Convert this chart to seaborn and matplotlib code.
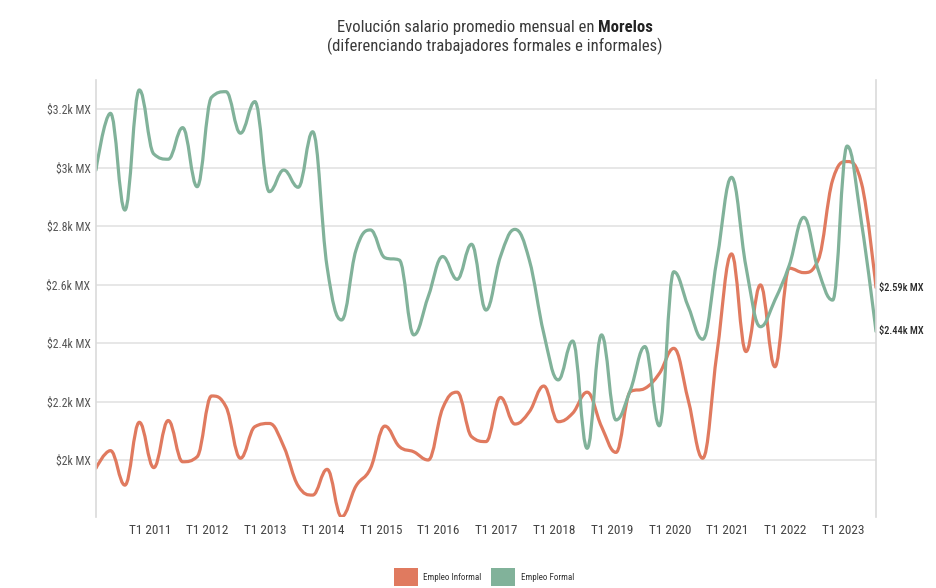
import numpy as np
import pandas as pd
import matplotlib
matplotlib.use("Agg")
import matplotlib.pyplot as plt
import seaborn as sns
from matplotlib import font_manager as fm
from matplotlib.patheffects import AbstractPathEffect
from matplotlib.path import Path
from matplotlib.transforms import IdentityTransform, ScaledTranslation
from matplotlib.patches import Patch

# ---------------- data ----------------
quarters = [f"T{q} {y}" for y in range(2010, 2024) for q in (1, 2, 3, 4)][:55]

informal = [1972, 2032, 1914, 2129, 1974, 2135, 1994, 2011, 2219, 2182,
            2006, 2114, 2125, 2046, 1911, 1880, 1968, 1806, 1911, 1971,
            2116, 2046, 2028, 2000, 2177, 2232, 2080, 2063, 2214, 2123,
            2165, 2253, 2131, 2160, 2232, 2114, 2026, 2234, 2245, 2296,
            2382, 2205, 2006, 2370, 2705, 2371, 2599, 2319, 2656, 2641,
            2684, 2958, 3021, 2946, 2590]

formal = [2992, 3186, 2855, 3266, 3047, 3029, 3137, 2935, 3241, 3260,
          3118, 3226, 2918, 2992, 2933, 3123, 2660, 2479, 2718, 2787,
          2692, 2684, 2428, 2559, 2696, 2618, 2738, 2513, 2696, 2789,
          2684, 2433, 2274, 2407, 2040, 2428, 2137, 2240, 2388, 2117,
          2644, 2525, 2413, 2690, 2967, 2661, 2456, 2547, 2667, 2830,
          2650, 2547, 3074, 2810, 2440]

series_names = ["Empleo Informal", "Empleo Formal"]
colors = {"Empleo Informal": "#E07A5F", "Empleo Formal": "#81B29A"}
y_ticks = [2000, 2200, 2400, 2600, 2800, 3000, 3200]
x_tick_labels = [f"T1 {y}" for y in range(2011, 2024)]

title_1 = "Evolución salario promedio mensual en "
title_bold = "Morelos"
title_2 = "(diferenciando trabajadores formales e informales)"

# ---------------- fonts: prefer a condensed/narrow family ----------------
sns.set_theme(style="white")
entries = fm.fontManager.ttflist
COND = ("condensed", "semi-condensed", "extra-condensed", "ultra-condensed")


def has(name, cond=False):
    for f in entries:
        if f.name == name and (not cond or str(f.stretch).lower() in COND):
            return True
    return False


FONT, STRETCH = None, "normal"
for nm in ["Liberation Sans Narrow", "Roboto Condensed", "Fira Sans Condensed",
           "Open Sans Condensed", "Noto Sans Condensed", "DejaVu Sans Condensed"]:
    if has(nm):
        FONT = nm
        break
if FONT is None:
    for nm in ["Noto Sans", "Roboto", "Open Sans", "DejaVu Sans"]:
        if has(nm, cond=True):
            FONT, STRETCH = nm, "condensed"
            break
if FONT is None:
    for f in entries:
        low = f.name.lower()
        if ("condensed" in low or "narrow" in low) and "cjk" not in low:
            FONT = f.name
            break
if FONT is None:
    FONT = "Roboto"
plt.rcParams["font.family"] = [FONT, "DejaVu Sans"]
plt.rcParams["font.stretch"] = STRETCH


# -------- Highcharts-like spline drawn as a path effect on seaborn lines --------
class HCSpline(AbstractPathEffect):
    def __init__(self, smoothing=1.5):
        super().__init__()
        self.s = smoothing

    def draw_path(self, renderer, gc, tpath, affine, rgbFace=None):
        pts = affine.transform(tpath.vertices)
        pts = pts[np.isfinite(pts).all(axis=1)]
        n = len(pts)
        if n < 3:
            renderer.draw_path(gc, tpath, affine, rgbFace)
            return
        s = self.s
        d = s + 1.0
        left = pts.copy()
        right = pts.copy()
        for i in range(1, n - 1):
            x, y = pts[i]
            lx, ly = pts[i - 1]
            nx, ny = pts[i + 1]
            lcx = (s * x + lx) / d
            lcy = (s * y + ly) / d
            rcx = (s * x + nx) / d
            rcy = (s * y + ny) / d
            if rcx != lcx:
                corr = (rcy - lcy) * (rcx - x) / (rcx - lcx) + y - rcy
                lcy += corr
                rcy += corr
            if lcy > ly and lcy > y:
                lcy = max(ly, y)
                rcy = 2 * y - lcy
            elif lcy < ly and lcy < y:
                lcy = min(ly, y)
                rcy = 2 * y - lcy
            if rcy > ny and rcy > y:
                rcy = max(ny, y)
                lcy = 2 * y - rcy
            elif rcy < ny and rcy < y:
                rcy = min(ny, y)
                lcy = 2 * y - rcy
            left[i] = (lcx, lcy)
            right[i] = (rcx, rcy)
        verts = [pts[0]]
        codes = [Path.MOVETO]
        for i in range(1, n):
            verts += [right[i - 1], left[i], pts[i]]
            codes += [Path.CURVE4] * 3
        renderer.draw_path(gc, Path(np.array(verts), codes), IdentityTransform(), rgbFace)


# ---------------- figure ----------------
W, H = 937, 588
fig = plt.figure(figsize=(W / 100, H / 100), dpi=100)
renderer = fig.canvas.get_renderer()


def fit(text, target_px, max_pt, weight="normal"):
    """font size (pt) so that `text` is about target_px wide, capped at max_pt"""
    t = fig.text(0, 0, text, fontsize=10, fontweight=weight)
    w = t.get_window_extent(renderer).width
    t.remove()
    return min(max_pt, 10 * target_px / max(w, 1))


ax = fig.add_axes([96 / W, 1 - 517 / H, (876 - 96) / W, (517 - 80) / H])

idx = np.arange(len(quarters))
df = pd.DataFrame({
    "idx": np.concatenate([idx, idx]),
    "valor": informal + formal,
    "serie": [series_names[0]] * len(informal) + [series_names[1]] * len(formal),
})
sns.lineplot(data=df, x="idx", y="valor", hue="serie", hue_order=series_names,
             palette=colors, linewidth=2.3, legend=False, ax=ax, sort=True)
for ln in ax.get_lines():
    ln.set_path_effects([HCSpline(1.5)])
    ln.set_solid_capstyle("round")
    ln.set_solid_joinstyle("round")

ax.set_xlim(0, len(quarters) - 1)
ax.set_ylim(1805, 3300)
ax.set_xlabel("")
ax.set_ylabel("")

# sizes fitted to the reference text widths
ytick_fs = fit("$3.2k MX", 44, 9.5)
xtick_fs = fit("T1 2011", 42, 10)
end_fs = fit("$2.59k MX", 44, 9.2)
title_fs = fit(title_2, 334, 14)
leg_fs = fit("Empleo Informal", 58, 7.6)

# grid / ticks
ax.set_yticks(y_ticks)
ax.set_yticklabels([f"${v/1000:g}k MX" for v in y_ticks])
ax.yaxis.grid(True, color="#e3e3e3", linewidth=1.2)
ax.xaxis.grid(False)
ax.set_axisbelow(True)
tick_pos = [quarters.index(t) for t in x_tick_labels]
ax.set_xticks(tick_pos)
ax.set_xticklabels(x_tick_labels)
ax.tick_params(axis="y", length=0, pad=4, labelsize=ytick_fs, labelcolor="#555555")
ax.tick_params(axis="x", length=0, pad=5, labelsize=xtick_fs, labelcolor="#444444")
off = ScaledTranslation(-4 / 100, 0, fig.dpi_scale_trans)
for lab in ax.get_xticklabels():
    lab.set_transform(lab.get_transform() + off)

for side in ("top", "bottom"):
    ax.spines[side].set_visible(False)
for side in ("left", "right"):
    ax.spines[side].set_color("#dadada")
    ax.spines[side].set_linewidth(1.2)

# end labels
for name, vals in zip(series_names, [informal, formal]):
    ax.annotate(f"${vals[-1]/1000:.2f}k MX", xy=(len(vals) - 1, vals[-1]),
                xytext=(2.2, 0), textcoords="offset points", va="center", ha="left",
                fontsize=end_fs, color="#2a2a2a", fontweight="medium",
                annotation_clip=False)

# title (two lines, "Morelos" in bold)
cx = 495
t1 = fig.text(0, 1 - 32 / H, title_1, fontsize=title_fs, color="#3a3a3a", va="baseline")
t2 = fig.text(0, 1 - 32 / H, title_bold, fontsize=title_fs, color="#222222",
              fontweight="bold", va="baseline")
w1 = t1.get_window_extent(renderer).width
w2 = t2.get_window_extent(renderer).width
x0 = cx - (w1 + w2) / 2
t1.set_x(x0 / W)
t2.set_x((x0 + w1) / W)
fig.text(cx / W, 1 - 51 / H, title_2, fontsize=title_fs, color="#3a3a3a",
         va="baseline", ha="center")

# legend
hpx = 24 * 72 / 100  # handle size in points
handles = [Patch(facecolor=colors[n], edgecolor="none", label=n) for n in series_names]
fig.legend(handles=handles, loc="center", bbox_to_anchor=(484 / W, 1 - 577 / H),
           ncol=2, frameon=False, fontsize=leg_fs, handlelength=hpx / leg_fs,
           handleheight=hpx / leg_fs, handletextpad=4 / leg_fs,
           columnspacing=7 / leg_fs, labelcolor="#333333", borderpad=0.2)

fig.savefig("out.png", dpi=100)
